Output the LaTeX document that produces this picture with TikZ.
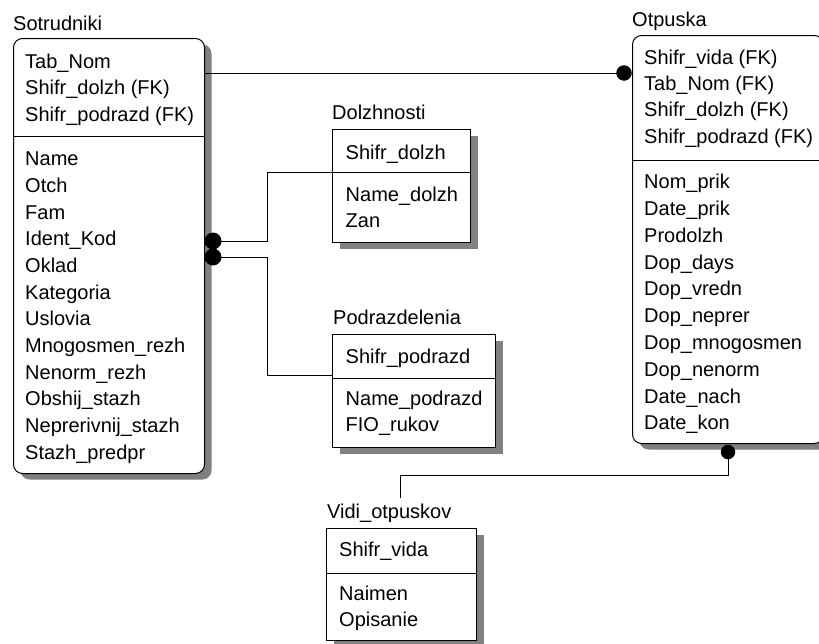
\documentclass[tikz,border=0pt]{standalone}
\usepackage{fontspec}
\setmainfont{Liberation Sans}
\usetikzlibrary{shadows}
\tikzset{
  entity/.style={draw=black, line width=1pt, fill=white, anchor=north west, inner sep=0pt,
    drop shadow={shadow xshift=7pt, shadow yshift=-6pt, fill=black!50, opacity=1}},
  roundent/.style={entity, rounded corners=9pt},
  fieldtxt/.style={anchor=base west, inner sep=0pt, font=\fontsize{20}{24}\selectfont},
  titletxt/.style={fieldtxt},
  ball/.style={circle, fill=black, inner sep=0pt, minimum size=15.5pt},
  conn/.style={line width=1pt},
  sepline/.style={line width=1pt}
}
\begin{document}
\begin{tikzpicture}[x=1pt,y=-1pt]
\path[use as bounding box, clip] (0,0) rectangle (819,643);
\fill[white] (0,0) rectangle (819,643);

% ---------- boxes ----------
\node[roundent, minimum width=191pt, minimum height=435pt] (sotr) at (13,38) {};
\draw[sepline] (13,136) -- (204,136);
\node[entity, minimum width=138pt, minimum height=113pt] (dolz) at (332,129) {};
\draw[sepline] (332,172) -- (470,172);
\node[entity, minimum width=163pt, minimum height=113pt] (podr) at (332,334) {};
\draw[sepline] (332,378) -- (495,378);
\node[roundent, minimum width=191pt, minimum height=408pt] (otp) at (632,35) {};
\draw[sepline] (632,160) -- (823,160);
\node[entity, minimum width=150pt, minimum height=112pt] (vidi) at (326,528) {};
\draw[sepline] (326,573) -- (476,573);

% ---------- titles ----------
\node[titletxt] (tsotr) at (13,30) {Sotrudniki};
\node[titletxt] (tdolz) at (332,119) {Dolzhnosti};
\node[titletxt] (tpodr) at (333,324) {Podrazdelenia};
\node[titletxt] (totp) at (632,26) {Otpuska};
\node[titletxt] (tvidi) at (327,518) {Vidi\_otpuskov};

% ---------- Sotrudniki fields ----------
\foreach \t [count=\i from 0] in {Tab\_Nom, Shifr\_dolzh (FK), Shifr\_podrazd (FK)}
  \node[fieldtxt] (sk\i) at (25,68+26.7*\i) {\t};
\foreach \t [count=\i from 0] in {Name, Otch, Fam, Ident\_Kod, Oklad, Kategoria, Uslovia,
    Mnogosmen\_rezh, Nenorm\_rezh, Obshij\_stazh, Neprerivnij\_stazh, Stazh\_predpr}
  \node[fieldtxt] (sf\i) at (25,165.6+26.7*\i) {\t};

% ---------- Dolzhnosti fields ----------
\node[fieldtxt] (dk0) at (345.5,159.3) {Shifr\_dolzh};
\node[fieldtxt] (df0) at (345.5,201) {Name\_dolzh};
\node[fieldtxt] (df1) at (345.5,227.7) {Zan};

% ---------- Podrazdelenia fields ----------
\node[fieldtxt] (pk0) at (345.5,363.3) {Shifr\_podrazd};
\node[fieldtxt] (pf0) at (345.5,405) {Name\_podrazd};
\node[fieldtxt] (pf1) at (345.5,431.5) {FIO\_rukov};

% ---------- Otpuska fields ----------
\foreach \t [count=\i from 0] in {Shifr\_vida (FK), Tab\_Nom (FK), Shifr\_dolzh (FK), Shifr\_podrazd (FK)}
  \node[fieldtxt] (ok\i) at (644,64+26.4*\i) {\t};
\foreach \t [count=\i from 0] in {Nom\_prik, Date\_prik, Prodolzh, Dop\_days, Dop\_vredn,
    Dop\_neprer, Dop\_mnogosmen, Dop\_nenorm, Date\_nach, Date\_kon}
  \node[fieldtxt] (of\i) at (644,188.7+26.8*\i) {\t};

% ---------- Vidi_otpuskov fields ----------
\node[fieldtxt] (vk0) at (339,556.5) {Shifr\_vida};
\node[fieldtxt] (vf0) at (339,600.5) {Naimen};
\node[fieldtxt] (vf1) at (339,626.7) {Opisanie};

% ---------- connectors ----------
\coordinate (b1) at (624,73);
\coordinate (b2) at (213,241);
\coordinate (b3) at (213,257);
\coordinate (b4) at (728,452);
\coordinate (dolzin) at (332,172);
\coordinate (podrin) at (332,375);
\coordinate (vidiin) at (400,498);

\draw[conn] (sotr.east |- b1) -- (b1);
\draw[conn] (b2) -- ++(54,0) |- (dolzin);
\draw[conn] (b3) -- ++(54,0) |- (podrin);
\draw[conn] (b4) -- ++(0,23) -| (vidiin);

\node[ball] (ball1) at (b1) {};
\node[ball, minimum width=17pt, minimum height=15.5pt] (ball2) at (b2) {};
\node[ball, minimum width=17pt, minimum height=15.5pt] (ball3) at (b3) {};
\node[ball, minimum size=14.5pt] (ball4) at (b4) {};
\end{tikzpicture}
\end{document}
